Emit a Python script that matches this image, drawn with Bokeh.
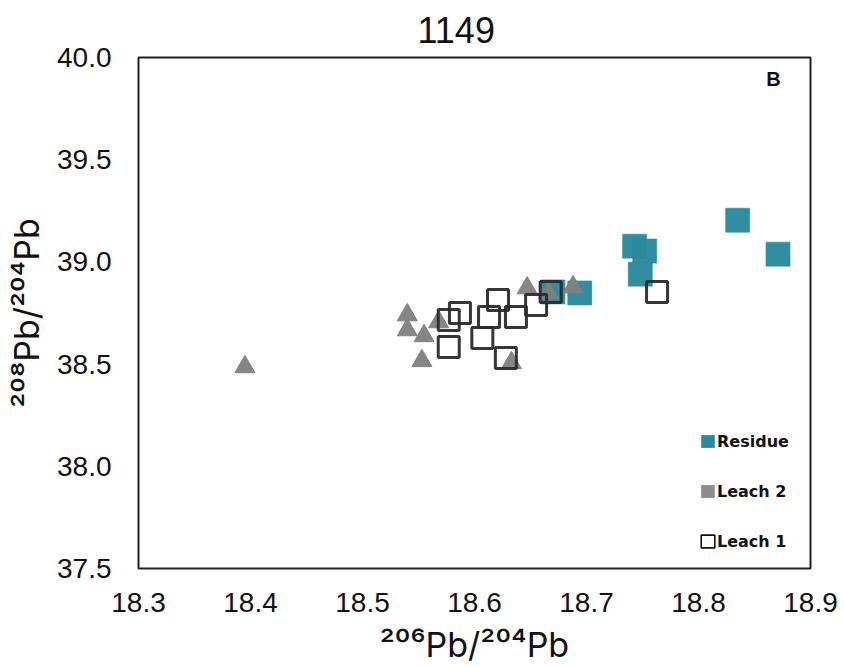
from bokeh.plotting import figure
from bokeh.models import (Range1d, FixedTicker, PrintfTickFormatter, Legend, LegendItem,
                          ColumnDataSource, Label)
from bokeh.embed import file_html
from bokeh.resources import INLINE

# ---- data ----
residue_x = [18.670, 18.694, 18.743, 18.752, 18.748, 18.835, 18.871]
residue_y = [38.853, 38.848, 39.077, 39.053, 38.940, 39.204, 39.038]

leach2_x = [18.395, 18.540, 18.540, 18.555, 18.553, 18.568, 18.647, 18.688, 18.666, 18.633]
leach2_y = [38.486, 38.740, 38.667, 38.638, 38.516, 38.706, 38.872, 38.877, 38.848, 38.506]

leach1_x = [18.577, 18.577, 18.587, 18.607, 18.613, 18.621, 18.628, 18.637, 18.655, 18.668, 18.763]
leach1_y = [38.584, 38.716, 38.750, 38.628, 38.730, 38.813, 38.530, 38.730, 38.789, 38.853, 38.853]

x_ticks = [18.3, 18.4, 18.5, 18.6, 18.7, 18.8, 18.9]
y_ticks = [37.5, 38.0, 38.5, 39.0, 39.5, 40.0]

title_text = "1149"
panel_tag = "B"
x_label = "\u00b2\u2070\u2076Pb/\u00b2\u2070\u2074Pb"
y_label = "\u00b2\u2070\u2078Pb/\u00b2\u2070\u2074Pb"
legend_labels = ["Residue", "Leach 2", "Leach 1"]

TEAL = "#2a8a9d"
GRAY = "#808080"
DARK = "#2b2b2b"
FONT = "Liberation Sans"

X0, X1, Y0, Y1 = 18.3, 18.9, 37.5, 40.0
W, H = 844, 667
BL, BR, BT, BB = 138, 34, 57, 98

p = figure(width=W, height=H, output_backend="svg", toolbar_location=None,
           x_range=Range1d(X0, X1), y_range=Range1d(Y0, Y1),
           min_border_left=BL, min_border_right=BR, min_border_top=BT, min_border_bottom=BB)

FW, FH = W - BL - BR, H - BT - BB
def dx(px):
    return X0 + (px - BL) / FW * (X1 - X0)
def dy(py):
    return Y1 - (py - BT) / FH * (Y1 - Y0)

p.background_fill_color = "white"
p.border_fill_color = "white"
p.outline_line_color = "#222222"
p.outline_line_width = 2
p.xgrid.visible = False
p.ygrid.visible = False

p.title.text = title_text
p.title.text_font = FONT
p.title.text_font_size = "36px"
p.title.text_font_style = "normal"
p.title.text_color = "#111111"
p.title.align = "left"
p.title.offset = 279
p.title.standoff = 29

for ax in (p.xaxis[0], p.yaxis[0]):
    ax.axis_line_color = None
    ax.major_tick_line_color = None
    ax.minor_tick_line_color = None
    ax.major_label_text_font = FONT
    ax.major_label_text_font_size = "28px"
    ax.major_label_text_color = "#111111"
    ax.axis_label_text_font_style = "normal"
    ax.axis_label_text_color = "#111111"
    ax.formatter = PrintfTickFormatter(format="%.1f")

p.xaxis[0].ticker = FixedTicker(ticks=x_ticks)
p.yaxis[0].ticker = FixedTicker(ticks=y_ticks)
p.xaxis[0].major_label_standoff = 18
p.yaxis[0].major_label_standoff = 21

p.xaxis[0].axis_label = x_label
p.xaxis[0].axis_label_text_font = "Inter"
p.xaxis[0].axis_label_text_font_size = "34px"
p.xaxis[0].axis_label_standoff = 9
p.yaxis[0].axis_label = y_label
p.yaxis[0].axis_label_text_font = "Inter"
p.yaxis[0].axis_label_text_font_size = "34px"
p.yaxis[0].axis_label_standoff = 7

# ---- marks ----
p.scatter(residue_x, residue_y, marker="square", size=24, fill_color=TEAL,
          line_color=TEAL, line_alpha=0.6, fill_alpha=0.97)
p.scatter(leach2_x, leach2_y, marker="triangle", size=20, fill_color=GRAY,
          line_color=GRAY, fill_alpha=0.95)
p.scatter(leach1_x, leach1_y, marker="square", size=21, fill_color=None,
          line_color=DARK, line_width=3, line_alpha=0.95)

# ---- legend (NaN renderers so legend keys are small squares) ----
def nan_src():
    return ColumnDataSource(data=dict(x=[float("nan")], y=[float("nan")]))
r_res = p.rect(x="x", y="y", width=0.01, height=0.01, source=nan_src(),
               fill_color=TEAL, line_color=None)
r_l2 = p.rect(x="x", y="y", width=0.01, height=0.01, source=nan_src(),
              fill_color="#8c8c8c", line_color=None)
r_l1 = p.rect(x="x", y="y", width=0.01, height=0.01, source=nan_src(),
              fill_color=None, line_color="#111111", line_width=1.6)

legend = Legend(items=[LegendItem(label=legend_labels[0], renderers=[r_res]),
                       LegendItem(label=legend_labels[1], renderers=[r_l2]),
                       LegendItem(label=legend_labels[2], renderers=[r_l1])],
                location=(561, 17), orientation="vertical",
                glyph_width=17, glyph_height=16, label_height=20, label_standoff=1,
                spacing=30, padding=0, margin=0,
                label_text_font="DejaVu Sans", label_text_font_size="16px",
                label_text_font_style="bold", label_text_color="#111111",
                border_line_color=None, background_fill_alpha=0)
p.add_layout(legend, "center")

p.add_layout(Label(x=dx(773), y=dy(79), text=panel_tag, text_font=FONT, text_font_size="20px",
                   text_font_style="bold", text_color="#111111",
                   text_align="center", text_baseline="middle"))

open("out.html", "w").write(file_html(p, INLINE))
